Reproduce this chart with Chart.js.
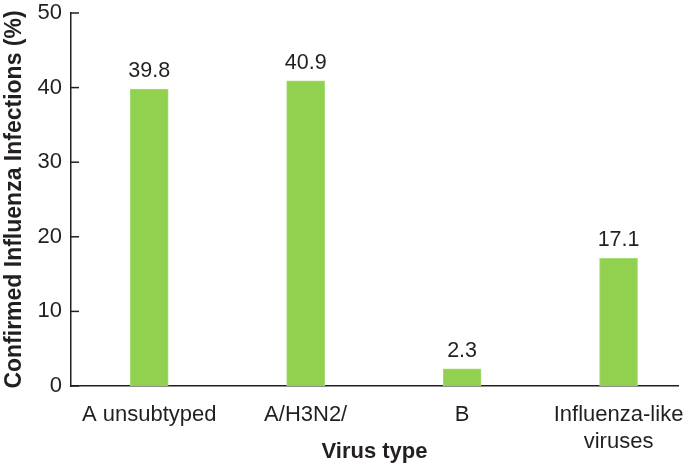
<!DOCTYPE html>
<html>
<head>
<meta charset="utf-8">
<script src="https://cdn.jsdelivr.net/npm/chart.js@4.4.0/dist/chart.umd.min.js"></script>
<style>
  html, body { margin: 0; padding: 0; background: #fff; }
  #wrap { width: 685px; height: 466px; position: relative; }
</style>
</head>
<body>
<div id="wrap"><canvas id="chart"></canvas></div>
<script>
// chart data
const categories = ['A unsubtyped', 'A/H3N2/', 'B', ['Influenza-like', 'viruses']];
const infectionPct = [39.8, 40.9, 2.3, 17.1];
const yTicks = [0, 10, 20, 30, 40, 50];

const ink = '#231f20';
const font = '"Liberation Sans", Arial, Helvetica, sans-serif';

// inward tick marks on the y axis + value labels above bars
const extras = {
  id: 'extras',
  afterDraw(chart) {
    const ctx = chart.ctx;
    const y = chart.scales.y;
    ctx.save();
    ctx.strokeStyle = ink;
    ctx.lineWidth = 1.5;
    yTicks.forEach((t) => {
      const py = y.getPixelForValue(t);
      ctx.beginPath();
      ctx.moveTo(chart.chartArea.left, py);
      ctx.lineTo(chart.chartArea.left + 8, py);
      ctx.stroke();
    });
    ctx.fillStyle = ink;
    ctx.font = '21.5px ' + font;
    ctx.textAlign = 'center';
    ctx.textBaseline = 'alphabetic';
    chart.getDatasetMeta(0).data.forEach((bar, i) => {
      ctx.fillText(infectionPct[i].toFixed(1), bar.x, bar.y - 12);
    });
    ctx.restore();
  }
};

new Chart(document.getElementById('chart'), {
  type: 'bar',
  data: {
    datasets: [{
      data: infectionPct.map((v, i) => ({ x: i, y: v })),
      backgroundColor: '#92d050',
      borderColor: '#a6dc74',
      borderWidth: 1,
      barThickness: 38,
    }],
  },
  options: {
    responsive: true,
    maintainAspectRatio: false,
    animation: false,
    layout: { padding: { top: 13, right: 7, bottom: 0, left: 0 } },
    plugins: { legend: { display: false }, tooltip: { enabled: false } },
    scales: {
      x: {
        type: 'linear',
        offset: false,
        min: -0.5,
        max: 3.38,
        afterBuildTicks: (scale) => { scale.ticks = categories.map((c, i) => ({ value: i })); },
        afterFit: (scale) => {
          scale.height = 80;
          scale.paddingLeft = 0;
          scale.paddingRight = 0;
        },
        grid: { display: false, drawTicks: false },
        border: { display: true, color: ink, width: 1.5 },
        ticks: {
          autoSkip: false,
          maxRotation: 0,
          padding: 16,
          color: ink,
          font: { family: font, size: 22, lineHeight: 1.2 },
          callback: (v) => categories[v],
        },
        title: {
          display: true,
          text: 'Virus type',
          color: ink,
          font: { family: font, size: 22, weight: 'bold' },
          padding: { top: 0, bottom: 1 },
        },
      },
      y: {
        min: 0,
        max: 50,
        afterBuildTicks: (scale) => { scale.ticks = yTicks.map((v) => ({ value: v })); },
        afterFit: (scale) => {
          scale.width = 71;
          scale.paddingTop = 0;
          scale.paddingBottom = 0;
        },
        grid: { display: false, drawTicks: false },
        border: { display: true, color: ink, width: 1.5 },
        ticks: {
          padding: 9,
          color: ink,
          font: { family: font, size: 22 },
        },
        title: {
          display: true,
          text: 'Confirmed Influenza Infections (%)',
          color: ink,
          font: { family: font, size: 23, weight: 'bold' },
          padding: { top: 1, bottom: 0 },
        },
      },
    },
  },
  plugins: [extras],
});
</script>
</body>
</html>
